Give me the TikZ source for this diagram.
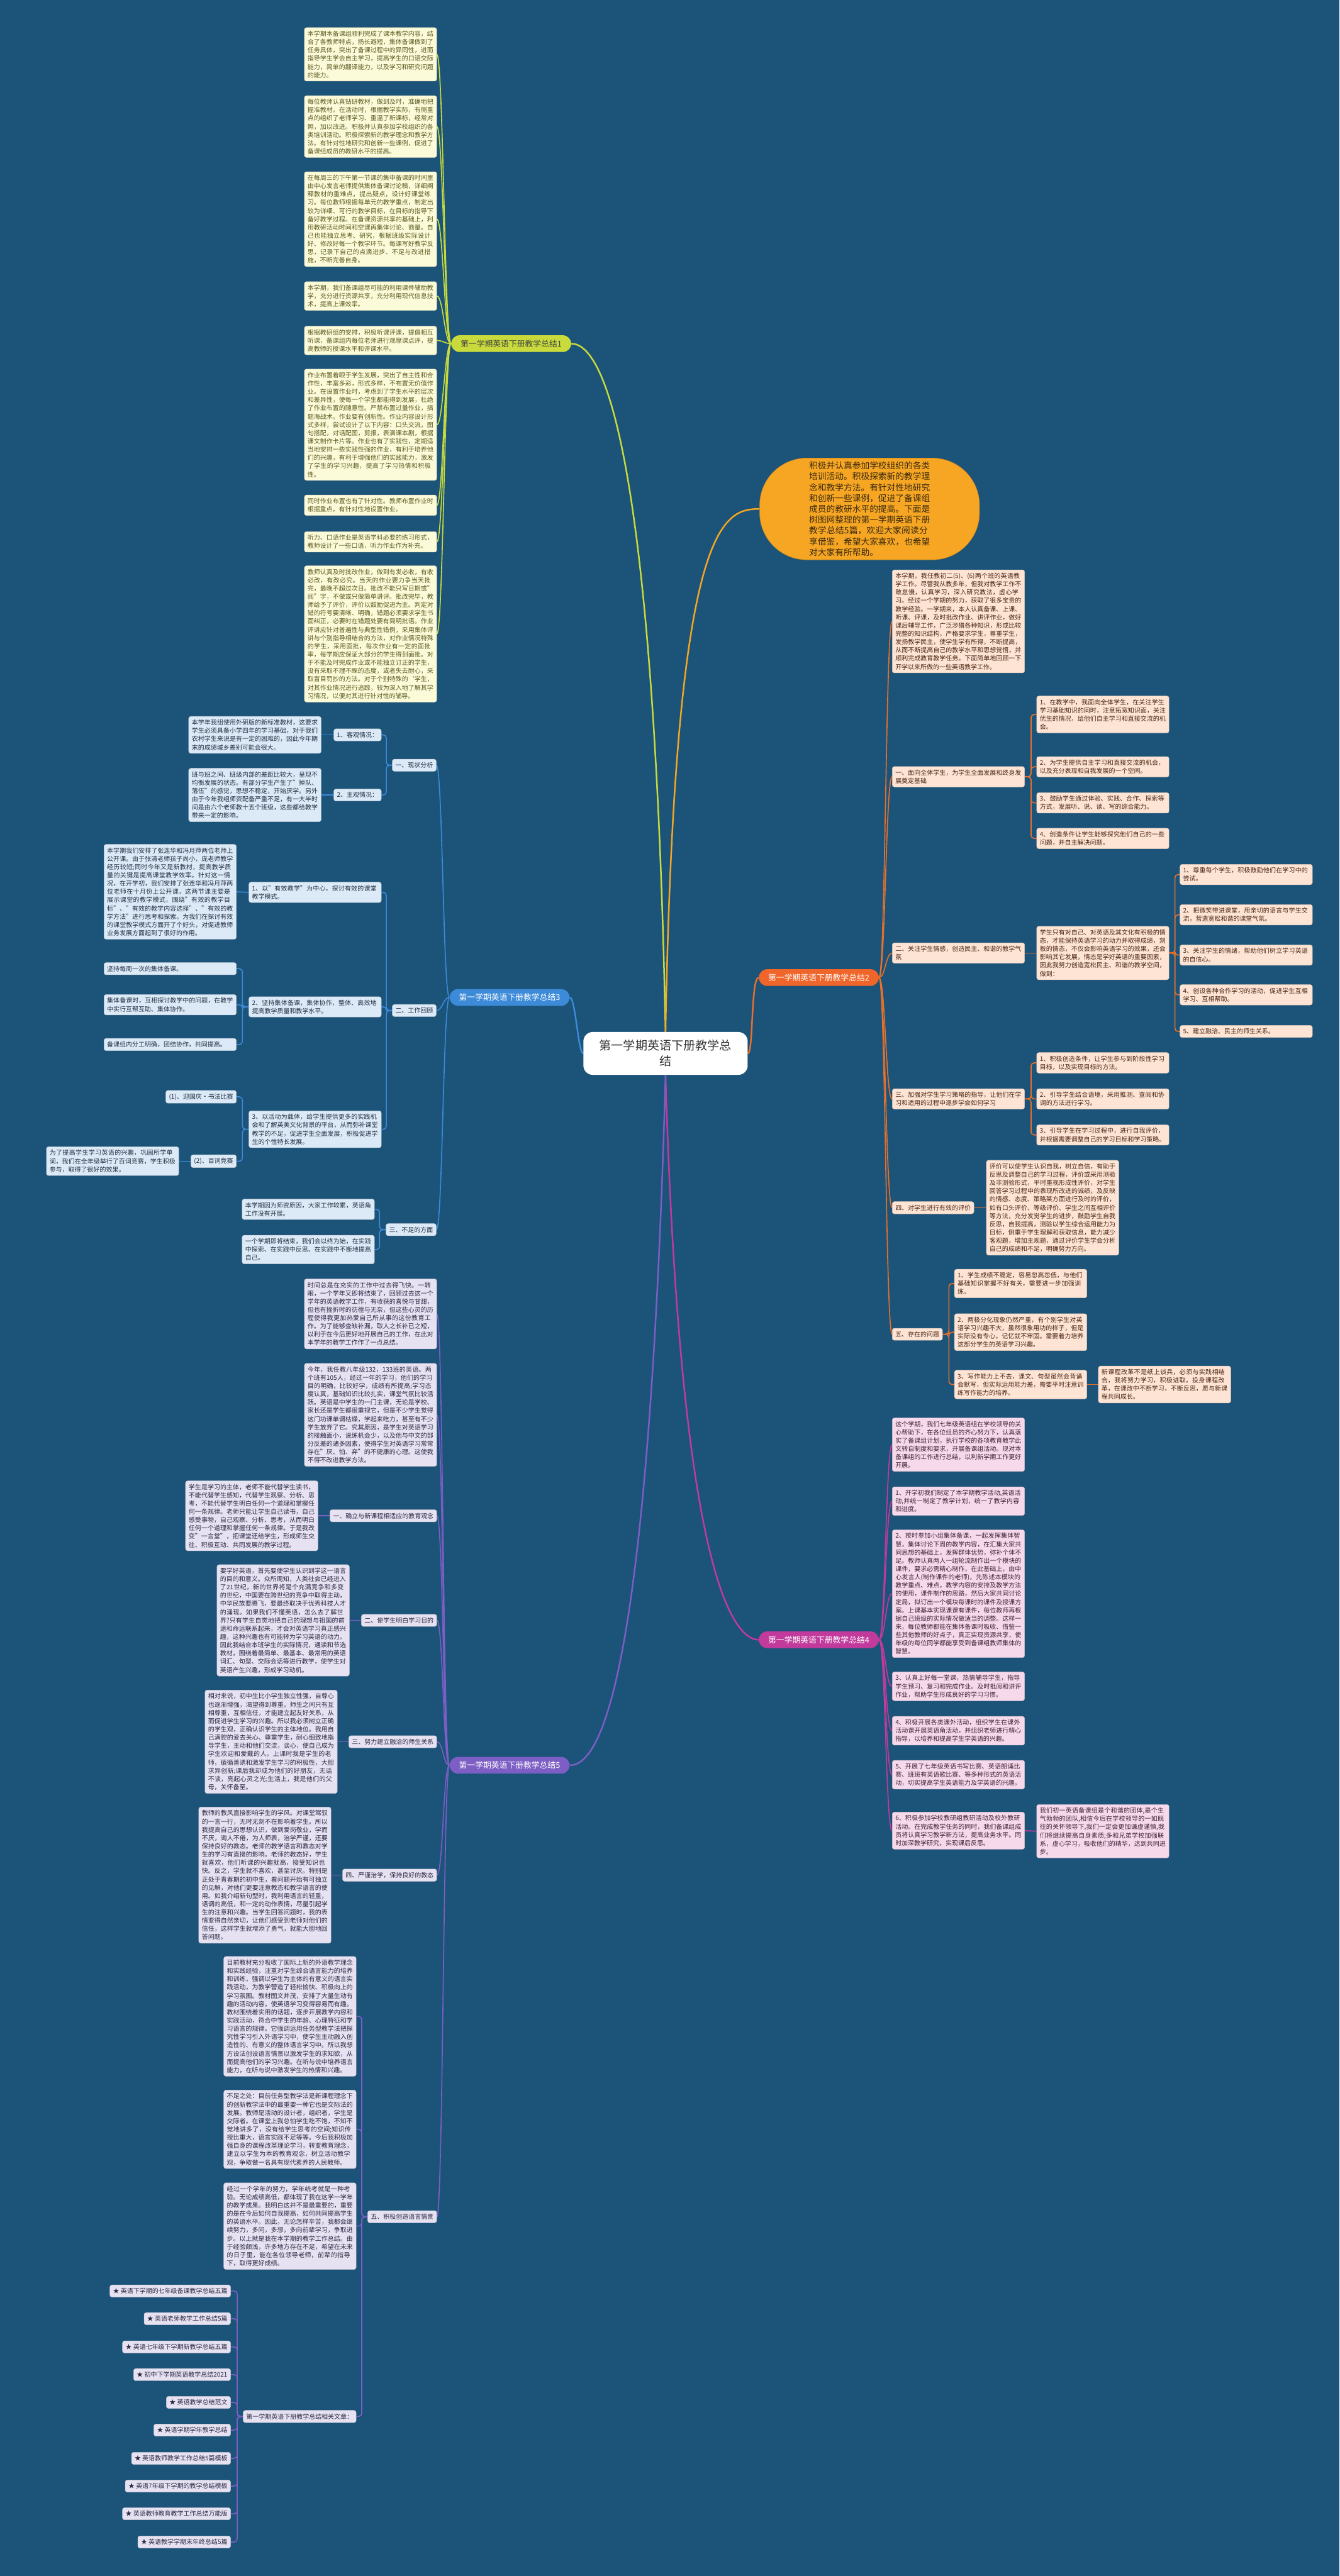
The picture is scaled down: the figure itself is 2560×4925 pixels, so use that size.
\documentclass[tikz,border=0pt]{standalone}
\usepackage{fontspec}
\setmainfont{Noto Sans CJK SC}
\usetikzlibrary{positioning}
\XeTeXlinebreaklocale "zh"
\XeTeXlinebreakskip=0pt plus 1pt
\definecolor{bgblue}{HTML}{1B5379}
\definecolor{cLime}{HTML}{C9DB3C}
\definecolor{cLimeFill}{HTML}{FCFBD9}
\definecolor{cLimeText}{HTML}{5A5820}
\definecolor{cOrange}{HTML}{E8702A}
\definecolor{cOrangeTag}{HTML}{F0652A}
\definecolor{cOrangeFill}{HTML}{FDE4D4}
\definecolor{cOrangeText}{HTML}{4A2412}
\definecolor{cBlue}{HTML}{3C8AD8}
\definecolor{cBlueFill}{HTML}{DCE9F6}
\definecolor{cBlueText}{HTML}{1F2F42}
\definecolor{cPink}{HTML}{C23B9C}
\definecolor{cPinkFill}{HTML}{F6DAEC}
\definecolor{cPinkText}{HTML}{3C1F33}
\definecolor{cPurple}{HTML}{7C5EC4}
\definecolor{cPurpleFill}{HTML}{E6E2F2}
\definecolor{cPurpleText}{HTML}{2B2742}
\definecolor{cGold}{HTML}{F6A623}
\definecolor{cGoldText}{HTML}{3B2A10}
\pgfdeclarelayer{back}
\pgfdeclarelayer{lines}
\pgfsetlayers{back,lines,main}
\tikzset{
  rootnode/.style={fill=white, rounded corners=9pt, align=center, text=black!80,
    font=\fontsize{11.5}{15}\selectfont, minimum width=157pt, minimum height=41pt},
  callout/.style={fill=cGold, draw=cGold!85!black, rounded corners=45pt,
    minimum width=210pt, minimum height=90pt, text width=115.5pt, align=left,
    font=\fontsize{8.25}{10.35}\selectfont, text=cGoldText},
  branchtag/.style={rounded corners=8pt, minimum height=16pt, inner xsep=9pt,
    font=\fontsize{7.7}{9}\selectfont, text=white},
  tag/.style={rounded corners=2pt, inner xsep=3pt, inner ysep=3pt,
    font=\fontsize{6}{7.9}\selectfont, line width=0.3pt},
  box/.style={tag, align=left, text width=120.5pt},
  lime/.style={fill=cLimeFill, draw=cLimeFill!85!black, text=cLimeText},
  peach/.style={fill=cOrangeFill, draw=cOrangeFill!85!black, text=cOrangeText},
  sky/.style={fill=cBlueFill, draw=cBlueFill!85!black, text=cBlueText},
  rose/.style={fill=cPinkFill, draw=cPinkFill!85!black, text=cPinkText},
  lilac/.style={fill=cPurpleFill, draw=cPurpleFill!85!black, text=cPurpleText},
  lcurve/.style={to path={.. controls +(-12,0) and +(12,0) .. (\tikztotarget)}},
  rcurve/.style={to path={.. controls +(12,0) and +(-12,0) .. (\tikztotarget)}},
  limeline/.style={draw=cLime, line width=1pt},
  orline/.style={draw=cOrange, line width=1pt, rounded corners=3pt},
  blueline/.style={draw=cBlue, line width=1pt, rounded corners=3pt},
  pinkline/.style={draw=cPink, line width=1pt},
  purpline/.style={draw=cPurple, line width=1pt, rounded corners=3pt}
}

\begin{document}
\begin{tikzpicture}[x=0.5pt,y=-0.5pt]
\begin{pgfonlayer}{back}
  \fill[bgblue] (0,0) rectangle (2560,4925);
\end{pgfonlayer}
\useasboundingbox (0,0) rectangle (2560,4925);

% centre and summary
\node[rootnode] (root) at (1272,2014) {第一学期英语下册教学总\\结};
\node[callout] (summary) at (1662,973) {积极并认真参加学校组织的各类培训活动。积极探索新的教学理念和教学方法。有针对性地研究和创新一些课例，促进了备课组成员的教研水平的提高。下面是树图网整理的第一学期英语下册教学总结5篇，欢迎大家阅读分享借鉴，希望大家喜欢，也希望对大家有所帮助。};

% branch 1
\node[branchtag, fill=cLime, text=black!75] (b1) at (977,657) {第一学期英语下册教学总结1};
\node[box, lime, anchor=east] (b1a) at (835,104) {本学期本备课组顺利完成了课本教学内容，结合了各教师特点，扬长避短，集体备课做到了任务具体，突出了备课过程中的异同性，进而指导学生学会自主学习，提高学生的口语交际能力，简单的翻译能力，以及学习和研究问题的能力。};
\node[box, lime, anchor=east] (b1b) at (835,242) {每位教师认真钻研教材，做到及时，准确地把握准教材。在活动时，根据教学实际，有侧重点的组织了老师学习、重温了新课标，经常对照，加以改进。积极并认真参加学校组织的各类培训活动。积极探索新的教学理念和教学方法。有针对性地研究和创新一些课例，促进了备课组成员的教研水平的提高。};
\node[box, lime, anchor=east] (b1c) at (835,419) {在每周三的下午第一节课的集中备课的时间里由中心发言老师提供集体备课讨论稿，详细阐释教材的重难点，提出疑点，设计好课堂练习。每位教师根据每单元的教学重点，制定出较为详细、可行的教学目标，在目标的指导下备好教学过程。在备课资源共享的基础上，利用教研活动时间和空课再集体讨论、商量。自己也能独立思考、研究，根据班级实际设计好、修改好每一个教学环节。每课写好教学反思，记录下自己的点滴进步、不足与改进措施，不断完善自身。};
\node[box, lime, anchor=east] (b1d) at (835,566) {本学期，我们备课组尽可能的利用课件辅助教学，充分进行资源共享，充分利用现代信息技术，提高上课效率。};
\node[box, lime, anchor=east] (b1e) at (835,651) {根据教研组的安排，积极听课评课，提倡相互听课，备课组内每位老师进行观摩课点评，提高教师的授课水平和评课水平。};
\node[box, lime, anchor=east] (b1f) at (835,812) {作业布置着眼于学生发展，突出了自主性和合作性，丰富多彩，形式多样，不布置无价值作业。在设置作业时，考虑到了学生水平的层次和差异性，使每一个学生都能得到发展，杜绝了作业布置的随意性。严禁布置过量作业，搞题海战术。作业要有创新性。作业内容设计形式多样，尝试设计了以下内容：口头交流，图句搭配，对话配图，剪报，表演课本剧，根据课文制作卡片等。作业也有了实践性，定期适当地安排一些实践性强的作业，有利于培养他们的兴趣，有利于增强他们的实践能力，激发了学生的学习兴趣，提高了学习热情和积极性。};
\node[box, lime, anchor=east] (b1g) at (835,966) {同时作业布置也有了针对性。教师布置作业时根据重点，有针对性地设置作业。};
\node[box, lime, anchor=east] (b1h) at (835,1036) {听力、口语作业是英语学科必要的练习形式，教师设计了一些口语，听力作业作为补充。};
\node[box, lime, anchor=east] (b1i) at (835,1212) {教师认真及时批改作业，做到有发必收，有收必改，有改必究。当天的作业要力争当天批完，最晚不超过次日。批改不能只写日期或"阅"字，不做或只做简单讲评。批改完毕，教师给予了评价，评价以鼓励促进为主。判定对错的符号要清晰、明确，错题必须要求学生书面纠正，必要时在错题处要有简明批语。作业评讲应针对普遍性与典型性错例，采用集体评讲与个别指导相结合的方法，对作业情况特殊的学生，采用面批，每次作业有一定的面批率，每学期应保证大部分的学生得到面批。对于不能及时完成作业或不能独立订正的学生，没有采取不理不睬的态度，或者失去耐心，采取盲目罚抄的方法。对于个别特殊的`学生，对其作业情况进行追踪，较为深入地了解其学习情况，以便对其进行针对性的辅导。};

% branch 2
\node[branchtag, fill=cOrangeTag] (b2) at (1565,1869) {第一学期英语下册教学总结2};
\node[box, peach, anchor=west] (b2a) at (1705,1188) {本学期，我任教初二(5)、(6)两个班的英语教学工作。尽管我从教多年，但我对教学工作不敢怠慢，认真学习，深入研究教法，虚心学习。经过一个学期的努力，获取了很多宝贵的教学经验。一学期来，本人认真备课、上课、听课、评课，及时批改作业、讲评作业，做好课后辅导工作，广泛涉猎各种知识，形成比较完整的知识结构，严格要求学生，尊重学生，发扬教学民主，使学生学有所得，不断提高，从而不断提高自己的教学水平和思想觉悟，并顺利完成教育教学任务。下面简单地回顾一下开学以来所做的一些英语教学工作。};
\node[box, peach, anchor=west] (b2b) at (1705,1485) {一、面向全体学生，为学生全面发展和终身发展奠定基础};
\node[box, peach, anchor=west] (b2b1) at (1981,1366) {1、在教学中，我面向全体学生，在关注学生学习基础知识的同时，注意拓宽知识面，关注优生的情况，给他们自主学习和直接交流的机会。};
\node[box, peach, anchor=west] (b2b2) at (1981,1466) {2、为学生提供自主学习和直接交流的机会，以及充分表现和自我发展的一个空间。};
\node[box, peach, anchor=west] (b2b3) at (1981,1535) {3、鼓励学生通过体验、实践、合作、探索等方式，发展听、说、读、写的综合能力。};
\node[box, peach, anchor=west] (b2b4) at (1981,1603) {4、创造条件让学生能够探究他们自己的一些问题，并自主解决问题。};
\node[box, peach, anchor=west] (b2c) at (1705,1822) {二、关注学生情感，创造民主、和谐的教学气氛};
\node[box, peach, anchor=west] (b2c0) at (1981,1822) {学生只有对自己、对英语及其文化有积极的情态，才能保持英语学习的动力并取得成绩，刻板的情态，不仅会影响英语学习的效果，还会影响其它发展，情态是学好英语的重要因素，因此我努力创造宽松民主、和谐的教学空间，做到：};
\node[box, peach, anchor=west] (b2c1) at (2255,1672) {1、尊重每个学生，积极鼓励他们在学习中的尝试。};
\node[box, peach, anchor=west] (b2c2) at (2255,1749) {2、把微笑带进课堂，用亲切的语言与学生交流，营造宽松和谐的课堂气氛。};
\node[box, peach, anchor=west] (b2c3) at (2255,1826) {3、关注学生的情绪，帮助他们树立学习英语的自信心。};
\node[box, peach, anchor=west] (b2c4) at (2255,1902) {4、创设各种合作学习的活动，促进学生互相学习、互相帮助。};
\node[box, peach, anchor=west] (b2c5) at (2255,1972) {5、建立融洽、民主的师生关系。};
\node[box, peach, anchor=west] (b2d) at (1705,2101) {三、加强对学生学习策略的指导，让他们在学习和适用的过程中逐步学会如何学习};
\node[box, peach, anchor=west] (b2d1) at (1981,2032) {1、积极创造条件，让学生参与到阶段性学习目标，以及实现目标的方法。};
\node[box, peach, anchor=west] (b2d2) at (1981,2101) {2、引导学生结合语境，采用推测、查阅和协调的方法进行学习。};
\node[box, peach, anchor=west] (b2d3) at (1981,2170) {3、引导学生在学习过程中，进行自我评价，并根据需要调整自己的学习目标和学习策略。};
\node[tag, peach, anchor=west] (b2e) at (1705,2309) {四、对学生进行有效的评价};
\node[box, peach, anchor=west] (b2e1) at (1885,2309) {评价可以使学生认识自我，树立自信，有助于反思及调整自己的学习过程，评价或采用测验及非测验形式，平时重视形成性评价，对学生回答学习过程中的表现所改进的诚绩，及反映的情感、态度、策略某方面进行及时的评价，如有口头评价、等级评价、学生之间互相评价等方法，充分发觉学生的进步，鼓励学生自我反思，自我提高，测验以学生综合运用能力为目标，侧重于学生理解和获取信息，能力减少客观题，增加主观题，通过评价学生学会分析自己的成绩和不足，明确努力方向。};
\node[tag, peach, anchor=west] (b2f) at (1705,2551) {五、存在的问题};
\node[box, peach, anchor=west] (b2f1) at (1824,2454) {1、学生成绩不稳定，容易忽高忽低，与他们基础知识掌握不好有关，需要进一步加强训练。};
\node[box, peach, anchor=west] (b2f2) at (1824,2547) {2、两极分化现象仍然严重，有个别学生对英语学习兴趣不大，虽然很象用功的样子，但是实际没有专心，记忆就不牢固。需要着力培养这部分学生的英语学习兴趣。};
\node[box, peach, anchor=west] (b2f3) at (1824,2647) {3、写作能力上不去，课文、句型虽然会背诵会默写，但实际运用能力差，需要平时注意训练写作能力的培养。};
\node[box, peach, anchor=west] (b2f4) at (2099,2647) {新课程改革不是纸上谈兵，必须与实践相结合，我将努力学习，积极进取，投身课程改革，在课改中不断学习，不断反思，愿与新课程共同成长。};

% branch 3
\node[branchtag, fill=cBlue] (b3) at (974,1907) {第一学期英语下册教学总结3};
\node[tag, sky, anchor=east] (b3a) at (834,1463) {一、现状分析};
\node[tag, sky, anchor=east] (b3a1) at (729,1405) {1、客观情况：};
\node[box, sky, anchor=east] (b3a1x) at (614,1405) {本学年我组使用外研版的新标准教材，这要求学生必须具备小学四年的学习基础，对于我们农村学生来说是有一定的困难的，因此今年期末的成绩城乡差别可能会很大。};
\node[tag, sky, anchor=east] (b3a2) at (729,1520) {2、主观情况：};
\node[box, sky, anchor=east] (b3a2x) at (614,1520) {班与班之间、班级内部的差距比较大，呈现不均衡发展的状态。有部分学生产生了"掉队、落伍"的感觉，思想不稳定，开始厌学。另外由于今年我组师资配备严重不足，有一大半时间是由六个老师教十五个班级，这些都给教学带来一定的影响。};
\node[tag, sky, anchor=east] (b3b) at (834,1932) {二、工作回顾};
\node[box, sky, anchor=east] (b3b1) at (729,1706) {1、以"有效教学"为中心，探讨有效的课堂教学模式。};
\node[box, sky, anchor=east] (b3b1x) at (452,1705) {本学期我们安排了张连华和冯月萍两位老师上公开课。由于张清老师孩子尚小，庞老师教学经历较短;同时今年又是新教材，提高教学质量的关键是提高课堂教学效率。针对这一情况，在开学初，我们安排了张连华和冯月萍两位老师在十月份上公开课，这两节课主要是展示课堂的教学模式，围绕"有效的教学目标"、"有效的教学内容选择"、"有效的教学方法"进行思考和探索。为我们在探讨有效的课堂教学模式方面开了个好头，对促进教师业务发展方面起到了很好的作用。};
\node[box, sky, anchor=east] (b3b2) at (729,1925) {2、坚持集体备课，集体协作，整体、高效地提高教学质量和教学水平。};
\node[box, sky, anchor=east] (b3b2a) at (452,1852) {坚持每周一次的集体备课。};
\node[box, sky, anchor=east] (b3b2b) at (452,1921) {集体备课时，互相探讨教学中的问题，在教学中实行互帮互助、集体协作。};
\node[box, sky, anchor=east] (b3b2c) at (452,1997) {备课组内分工明确，团结协作，共同提高。};
\node[box, sky, anchor=east] (b3b3) at (729,2159) {3、以活动为载体，给学生提供更多的实践机会和了解英美文化背景的平台，从而弥补课堂教学的不足，促进学生全面发展，积极促进学生的个性特长发展。};
\node[tag, sky, anchor=east] (b3b3a) at (452,2097) {(1)、迎国庆·书法比赛};
\node[tag, sky, anchor=east] (b3b3b) at (452,2220) {(2)、百词竞赛};
\node[box, sky, anchor=east] (b3b3bx) at (342,2220) {为了提高学生学习英语的兴趣，巩固所学单词，我们在全年级举行了百词竞赛，学生积极参与，取得了很好的效果。};
\node[tag, sky, anchor=east] (b3c) at (834,2351) {三、不足的方面};
\node[box, sky, anchor=east] (b3c1) at (716,2312) {本学期因为师资原因，大家工作较累，英语角工作没有开展。};
\node[box, sky, anchor=east] (b3c2) at (716,2389) {一个学期即将结束，我们会以终为始，在实践中探索、在实践中反思、在实践中不断地提高自己。};

% branch 4
\node[branchtag, fill=cPink] (b4) at (1565,3135) {第一学期英语下册教学总结4};
\node[box, rose, anchor=west] (b4a) at (1705,2762) {这个学期，我们七年级英语组在学校领导的关心帮助下，在各位组员的齐心努力下，认真落实了备课组计划，执行学校的各项教育教学此文转自制度和要求，开展备课组活动。现对本备课组的工作进行总结，以利新学期工作更好开展。};
\node[box, rose, anchor=west] (b4b) at (1705,2870) {1、开学初我们制定了本学期教学活动,英语活动,并统一制定了教学计划，统一了教学内容和进度。};
\node[box, rose, anchor=west] (b4c) at (1705,3047) {2、按时参加小组集体备课，一起发挥集体智慧，集体讨论下周的教学内容，在汇集大家共同思想的基础上，发挥群体优势，弥补个体不足。教师认真两人一组轮流制作出一个模块的课件，要求必需精心制作，在此基础上，由中心发言人(制作课件的老师)，先陈述本模块的教学重点、难点，教学内容的安排及教学方法的使用，课件制作的思路，然后大家共同讨论定局，拟订出一个模块每课时的课件及授课方案。上课基本实现课课有课件，每位教师再根据自己班级的实际情况做适当的调整。这样一来，每位教师都能在集体备课时吸收、借鉴一些其他教师的好点子，真正实现资源共享，使年级的每位同学都能享受到备课组教师集体的智慧。};
\node[box, rose, anchor=west] (b4d) at (1705,3224) {3、认真上好每一堂课，热情辅导学生，指导学生预习、复习和完成作业。及时批阅和讲评作业，帮助学生形成良好的学习习惯。};
\node[box, rose, anchor=west] (b4e) at (1705,3309) {4、积极开展各类课外活动，组织学生在课外活动课开展英语角活动，并组织老师进行精心指导，以培养和提高学生学英语的兴趣。};
\node[box, rose, anchor=west] (b4f) at (1705,3393) {5、开展了七年级英语书写比赛、英语朗诵比赛、班班有英语歌比赛、等多种形式的英语活动，切实提高学生英语能力及学英语的兴趣。};
\node[box, rose, anchor=west] (b4g) at (1705,3500) {6、积极参加学校教研组教研活动及校外教研活动。在完成教学任务的同时，我们备课组成员将认真学习教学新方法，提高业务水平。同时加深教学研究，实现课后反思。};
\node[box, rose, anchor=west] (b4g1) at (1981,3501) {我们初一英语备课组是个和谐的团体,是个生气勃勃的团队,相信今后在学校领导的一如既往的关怀领导下,我们一定会更加谦虚谨慎,我们将继续提高自身素质;多和兄弟学校加强联系，虚心学习，吸收他们的精华，达到共同进步。};

% branch 5
\node[branchtag, fill=cPurple] (b5) at (974,3375) {第一学期英语下册教学总结5};
\node[box, lilac, anchor=east] (b5a) at (835,2512) {时间总是在充实的工作中过去得飞快。一转眼，一个学年又即将结束了，回顾过去这一个学年的英语教学工作，有收获的喜悦与甘甜，但也有挫折时的彷徨与无奈，但这些心灵的历程使得我更加热爱自己所从事的这份教育工作。为了能够查缺补漏，取人之长补已之短，以利于在今后更好地开展自己的工作，在此对本学年的教学工作作了一点总结。};
\node[box, lilac, anchor=east] (b5b) at (835,2705) {今年，我任教八年级132，133班的英语。两个班有105人，经过一年的学习，他们的学习目的明确，比较好学，成绩有所提高;学习态度认真，基础知识比较扎实，课堂气氛比较活跃。英语是中学生的一门主课，无论是学校、家长还是学生都很重视它，但是不少学生觉得这门功课单调枯燥，学起来吃力，甚至有不少学生放弃了它。究其原因，是学生对英语学习的接触面小，说练机会少，以及他与中文的部分反差的诸多因素，使得学生对英语学习常常存在"厌、怕、弃"的不健康的心理。这使我不得不改进教学方法。};
\node[tag, lilac, anchor=east] (b5c) at (835,2898) {一、确立与新课程相适应的教育观念};
\node[box, lilac, anchor=east] (b5c1) at (608,2898) {学生是学习的主体，老师不能代替学生读书，不能代替学生感知，代替学生观察、分析、思考，不能代替学生明白任何一个道理和掌握任何一条规律。老师只能让学生自己读书，自己感受事物，自己观察、分析、思考，从而明白任何一个道理和掌握任何一条规律。于是我改变"一言堂"，把课堂还给学生，形成师生交往、积极互动、共同发展的教学过程。};
\node[tag, lilac, anchor=east] (b5d) at (835,3098) {二、使学生明白学习目的};
\node[box, lilac, anchor=east] (b5d1) at (668,3098) {要学好英语，首先要使学生认识到学这一语言的目的和意义。众所周知，人类社会已经进入了21世纪，新的世界将是个充满竞争和多变的世纪，中国要在跨世纪的竞争中取得主动，中华民族要腾飞，要最终取决于优秀科技人才的涌现。如果我们不懂英语，怎么去了解世界?只有学生自觉地把自己的理想与祖国的前途和命运联系起来，才会对英语学习真正感兴趣，这种兴趣也有可能转为学习英语的动力。因此我结合本班学生的实际情况，通读和节选教材，围绕着最简单、最基本、最常用的英语词汇、句型、交际会话等进行教学，使学生对英语产生兴趣，形成学习动机。};
\node[tag, lilac, anchor=east] (b5e) at (835,3330) {三、努力建立融洽的师生关系};
\node[box, lilac, anchor=east] (b5e1) at (645,3330) {相对来说，初中生比小学生独立性强，自尊心也逐渐增强，渴望得到尊重。师生之间只有互相尊重，互相信任，才能建立起友好关系，从而促进学生学习的兴趣。所以我必须树立正确的学生观，正确认识学生的主体地位。我用自己满腔的爱去关心、尊重学生，耐心细致地指导学生，主动和他们交流，谈心，使自己成为学生欢迎和爱戴的人。上课时我是学生的老师，循循善诱和激发学生学习的积极性，大胆求异创新;课后我却成为他们的好朋友，无话不谈，亮起心灵之光;生活上，我是他们的父母，关怀备至。};
\node[tag, lilac, anchor=east] (b5f) at (835,3585) {四、严谨治学，保持良好的教态};
\node[box, lilac, anchor=east] (b5f1) at (633,3585) {教师的教风直接影响学生的学风。对课堂驾驭的一言一行，无时无刻不在影响着学生。所以我提高自己的思想认识，做到爱岗敬业，学而不厌，诲人不倦，为人师表，治学严谨，还要保持良好的教态。老师的教学语言和教态对学生的学习有直接的影响。老师的教态好，学生就喜欢，他们听课的兴趣就高，接受知识也快。反之，学生就不喜欢，甚至讨厌。特别是正处于青春期的初中生，看问题开始有可独立的见解，对他们更要注意教态和教学语言的使用。如我介绍新句型时，我利用语言的轻重，语调的高低，和一定的动作表情，尽量引起学生的注意和兴趣。当学生回答问题时，我的表情变得自然亲切，让他们感受到老师对他们的信任，这样学生就增添了勇气，就能大胆地回答问题。};
\node[tag, lilac, anchor=east] (b5g) at (835,4238) {五、积极创造语言情景};
\node[box, lilac, anchor=east] (b5g1) at (681,3855) {目前教材充分吸收了国际上新的外语教学理念和实践经验，注重对学生综合语言能力的培养和训练，强调以学生为主体的有意义的语言实践活动，为教学营造了轻松愉快、积极向上的学习氛围。教材图文并茂，安排了大量生动有趣的活动内容，使英语学习变得容易而有趣。教材围绕着实用的话题，逐步开展教学内容和实践活动，符合中学生的年龄、心理特征和学习语言的规律。它强调运用任务型教学法把探究性学习引入外语学习中，使学生主动融入创造性的、有意义的整体语言学习中。所以我想方设法创设语言情景以激发学生的求知欲，从而提高他们的学习兴趣。在听与说中培养语言能力，在听与说中激发学生的热情和兴趣。};
\node[box, lilac, anchor=east] (b5g2) at (681,4071) {不足之处：目前任务型教学法是新课程理念下的创新教学法中的最重要一种它也是交际法的发展。教师是活动的设计者，组织者，学生是交际者。在课堂上我总怕学生吃不饱，不知不觉地讲多了，没有给学生思考的空间;知识传授比重大，语言实践不足等等。今后我积极加强自身的课程改革理论学习，转变教育理念，建立以学生为本的教育观念，树立活动教学观，争取做一名具有现代素养的人民教师。};
\node[box, lilac, anchor=east] (b5g3) at (681,4256) {经过一个学年的努力，学年统考就是一种考验。无论成绩高低，都体现了我在这学一学年的教学成果。我明白这并不是最重要的，重要的是在今后如何自我提高，如何共同提高学生的英语水平。因此，无论怎样辛苦，我都会继续努力，多问，多想，多向前辈学习，争取进步。以上就是我在本学期的教学工作总结。由于经验颇浅，许多地方存在不足，希望在未来的日子里，能在各位领导老师，前辈的指导下，取得更好成绩。};
\node[tag, lilac, anchor=east] (rel) at (681,4620) {第一学期英语下册教学总结相关文章：};
\node[tag, lilac, anchor=east] (rel1) at (441,4380) {★ 英语下学期的七年级备课教学总结五篇};
\node[tag, lilac, anchor=east] (rel2) at (441,4433) {★ 英语老师教学工作总结5篇};
\node[tag, lilac, anchor=east] (rel3) at (441,4487) {★ 英语七年级下学期新教学总结五篇};
\node[tag, lilac, anchor=east] (rel4) at (441,4540) {★ 初中下学期英语教学总结2021};
\node[tag, lilac, anchor=east] (rel5) at (441,4593) {★ 英语教学总结范文};
\node[tag, lilac, anchor=east] (rel6) at (441,4646) {★ 英语学期学年教学总结};
\node[tag, lilac, anchor=east] (rel7) at (441,4700) {★ 英语教师教学工作总结5篇模板};
\node[tag, lilac, anchor=east] (rel8) at (441,4753) {★ 英语7年级下学期的教学总结模板};
\node[tag, lilac, anchor=east] (rel9) at (441,4806) {★ 英语教师教育教学工作总结万能版};
\node[tag, lilac, anchor=east] (rel10) at (441,4860) {★ 英语教学学期末年终总结5篇};

\begin{pgfonlayer}{lines}
  % centre to branches
  \draw[draw=cLime, line width=1.5pt] (root.north) .. controls (1250,900) and (1160,657) .. (b1.east);
  \draw[draw=cGold, line width=1.5pt] (root.north) .. controls (1290,1000) and (1380,973) .. (summary.west);
  \draw[draw=cOrange, line width=1.5pt] (root.east) .. controls (1440,2014) and (1435,1869) .. (b2.west);
  \draw[draw=cBlue, line width=1.5pt] (root.west) .. controls (1105,2014) and (1100,1907) .. (b3.east);
  \draw[draw=cPink, line width=1.5pt] (root.south) .. controls (1300,3000) and (1400,3135) .. (b4.west);
  \draw[draw=cPurple, line width=1.5pt] (root.south) .. controls (1240,3200) and (1150,3375) .. (b5.east);
  % branch 1
  \draw[limeline] (b1.west) to[lcurve] (b1a.east);
  \draw[limeline] (b1.west) to[lcurve] (b1b.east);
  \draw[limeline] (b1.west) to[lcurve] (b1c.east);
  \draw[limeline] (b1.west) to[lcurve] (b1d.east);
  \draw[limeline] (b1.west) to[lcurve] (b1e.east);
  \draw[limeline] (b1.west) to[lcurve] (b1f.east);
  \draw[limeline] (b1.west) to[lcurve] (b1g.east);
  \draw[limeline] (b1.west) to[lcurve] (b1h.east);
  \draw[limeline] (b1.west) to[lcurve] (b1i.east);
  % branch 2
  \draw[orline] (b2.east) to[rcurve] (b2a.west);
  \draw[orline] (b2.east) to[rcurve] (b2b.west);
  \draw[orline] (b2.east) to[rcurve] (b2c.west);
  \draw[orline] (b2.east) to[rcurve] (b2d.west);
  \draw[orline] (b2.east) to[rcurve] (b2e.west);
  \draw[orline] (b2.east) to[rcurve] (b2f.west);
  \draw[orline] (b2b.east) -- ++(12,0) |- (b2b1.west);
  \draw[orline] (b2b.east) -- ++(12,0) |- (b2b2.west);
  \draw[orline] (b2b.east) -- ++(12,0) |- (b2b3.west);
  \draw[orline] (b2b.east) -- ++(12,0) |- (b2b4.west);
  \draw[orline] (b2c.east) -- (b2c0.west);
  \draw[orline] (b2c0.east) -- ++(11,0) |- (b2c1.west);
  \draw[orline] (b2c0.east) -- ++(11,0) |- (b2c2.west);
  \draw[orline] (b2c0.east) -- ++(11,0) |- (b2c3.west);
  \draw[orline] (b2c0.east) -- ++(11,0) |- (b2c4.west);
  \draw[orline] (b2c0.east) -- ++(11,0) |- (b2c5.west);
  \draw[orline] (b2d.east) -- ++(12,0) |- (b2d1.west);
  \draw[orline] (b2d.east) -- ++(12,0) |- (b2d2.west);
  \draw[orline] (b2d.east) -- ++(12,0) |- (b2d3.west);
  \draw[orline] (b2e.east) -- (b2e1.west);
  \draw[orline] (b2f.east) -- ++(12,0) |- (b2f1.west);
  \draw[orline] (b2f.east) -- ++(12,0) |- (b2f2.west);
  \draw[orline] (b2f.east) -- ++(12,0) |- (b2f3.west);
  \draw[orline] (b2f3.east) -- (b2f4.west);
  % branch 3
  \draw[blueline] (b3.west) to[lcurve] (b3a.east);
  \draw[blueline] (b3.west) to[lcurve] (b3b.east);
  \draw[blueline] (b3.west) to[lcurve] (b3c.east);
  \draw[blueline] (b3a.west) -- ++(-11,0) |- (b3a1.east);
  \draw[blueline] (b3a.west) -- ++(-11,0) |- (b3a2.east);
  \draw[blueline] (b3a1.west) -- (b3a1x.east);
  \draw[blueline] (b3a2.west) -- (b3a2x.east);
  \draw[blueline] (b3b.west) -- ++(-11,0) |- (b3b1.east);
  \draw[blueline] (b3b.west) -- ++(-11,0) |- (b3b2.east);
  \draw[blueline] (b3b.west) -- ++(-11,0) |- (b3b3.east);
  \draw[blueline] (b3b1.west) -- (b3b1x.east);
  \draw[blueline] (b3b2.west) -- ++(-12,0) |- (b3b2a.east);
  \draw[blueline] (b3b2.west) -- ++(-12,0) |- (b3b2b.east);
  \draw[blueline] (b3b2.west) -- ++(-12,0) |- (b3b2c.east);
  \draw[blueline] (b3b3.west) -- ++(-12,0) |- (b3b3a.east);
  \draw[blueline] (b3b3.west) -- ++(-12,0) |- (b3b3b.east);
  \draw[blueline] (b3b3b.west) -- (b3b3bx.east);
  \draw[blueline] (b3c.west) -- ++(-12,0) |- (b3c1.east);
  \draw[blueline] (b3c.west) -- ++(-12,0) |- (b3c2.east);
  % branch 4
  \draw[pinkline] (b4.east) to[rcurve] (b4a.west);
  \draw[pinkline] (b4.east) to[rcurve] (b4b.west);
  \draw[pinkline] (b4.east) to[rcurve] (b4c.west);
  \draw[pinkline] (b4.east) to[rcurve] (b4d.west);
  \draw[pinkline] (b4.east) to[rcurve] (b4e.west);
  \draw[pinkline] (b4.east) to[rcurve] (b4f.west);
  \draw[pinkline] (b4.east) to[rcurve] (b4g.west);
  \draw[pinkline] (b4g.east) -- (b4g1.west);
  % branch 5
  \draw[purpline] (b5.west) to[lcurve] (b5a.east);
  \draw[purpline] (b5.west) to[lcurve] (b5b.east);
  \draw[purpline] (b5.west) to[lcurve] (b5c.east);
  \draw[purpline] (b5.west) to[lcurve] (b5d.east);
  \draw[purpline] (b5.west) to[lcurve] (b5e.east);
  \draw[purpline] (b5.west) to[lcurve] (b5f.east);
  \draw[purpline] (b5.west) to[lcurve] (b5g.east);
  \draw[purpline] (b5c.west) -- (b5c1.east);
  \draw[purpline] (b5d.west) -- (b5d1.east);
  \draw[purpline] (b5e.west) -- (b5e1.east);
  \draw[purpline] (b5f.west) -- (b5f1.east);
  \draw[purpline] (b5g.west) -- ++(-11,0) |- (b5g1.east);
  \draw[purpline] (b5g.west) -- ++(-11,0) |- (b5g2.east);
  \draw[purpline] (b5g.west) -- ++(-11,0) |- (b5g3.east);
  \draw[purpline] (b5g.west) -- ++(-11,0) |- (rel.east);
  \draw[purpline] (rel.west) -- ++(-11,0) |- (rel1.east);
  \draw[purpline] (rel.west) -- ++(-11,0) |- (rel2.east);
  \draw[purpline] (rel.west) -- ++(-11,0) |- (rel3.east);
  \draw[purpline] (rel.west) -- ++(-11,0) |- (rel4.east);
  \draw[purpline] (rel.west) -- ++(-11,0) |- (rel5.east);
  \draw[purpline] (rel.west) -- ++(-11,0) |- (rel6.east);
  \draw[purpline] (rel.west) -- ++(-11,0) |- (rel7.east);
  \draw[purpline] (rel.west) -- ++(-11,0) |- (rel8.east);
  \draw[purpline] (rel.west) -- ++(-11,0) |- (rel9.east);
  \draw[purpline] (rel.west) -- ++(-11,0) |- (rel10.east);
\end{pgfonlayer}
\end{tikzpicture}
\end{document}
